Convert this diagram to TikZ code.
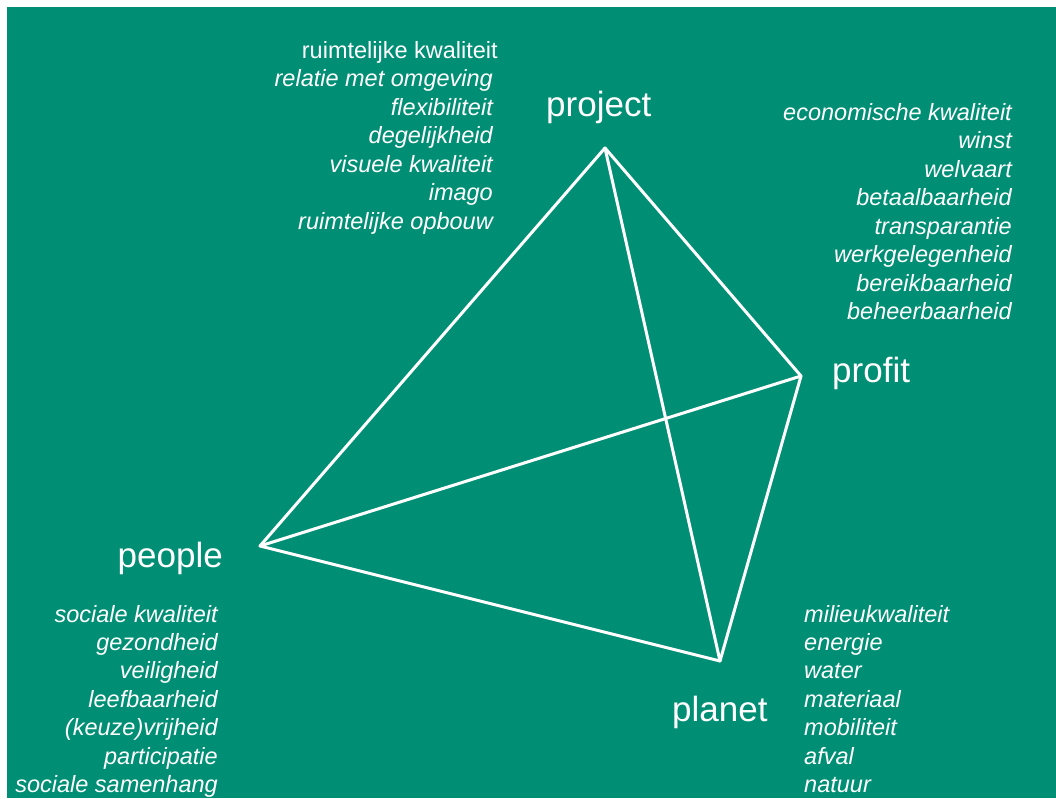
\documentclass[tikz,border=0pt]{standalone}
\usepackage{fontspec}
\setmainfont{Liberation Sans}
\definecolor{bggreen}{RGB}{0,143,116}
\begin{document}
\begin{tikzpicture}[x=1pt,y=-1pt,
  title/.style={text=white,font=\fontsize{35}{42}\selectfont,inner sep=0pt},
  item/.style={text=white,font=\fontsize{23.5}{28}\selectfont\itshape,inner sep=0pt},
  itemup/.style={text=white,font=\fontsize{23.5}{28}\selectfont,inner sep=0pt},
  edge/.style={draw=white,line width=3pt,line cap=round,line join=round}]
\useasboundingbox (0,0) rectangle (1056,798);
\fill[white] (0,0) rectangle (1056,798);
\fill[bggreen] (7,7) rectangle (1056,798);
% vertices
\coordinate (P) at (605,148);
\coordinate (F) at (801,376);
\coordinate (E) at (260,546);
\coordinate (L) at (720,661);
\draw[edge] (P) -- (E);
\draw[edge] (P) -- (F);
\draw[edge] (P) -- (L);
\draw[edge] (E) -- (F);
\draw[edge] (E) -- (L);
\draw[edge] (F) -- (L);
% titles
\node[title,anchor=base west] (tproject) at (546,116) {project};
\node[title,anchor=base west] (tprofit) at (832,382) {profit};
\node[title,anchor=base east] (tpeople) at (223,567) {people};
\node[title,anchor=base west] (tplanet) at (672,721) {planet};
% project list
\node[itemup,anchor=base east] (pj0) at (498,58) {ruimtelijke kwaliteit};
\foreach [count=\i] \t in {relatie met omgeving,flexibiliteit,degelijkheid,visuele kwaliteit,imago,ruimtelijke opbouw}
  \node[item,anchor=base east] (pj\i) at (493,58+28.5*\i) {\t};
% profit list
\foreach [count=\i] \t in {economische kwaliteit,winst,welvaart,betaalbaarheid,transparantie,werkgelegenheid,bereikbaarheid,beheerbaarheid}
  \node[item,anchor=base east] (pf\i) at (1012,91.5+28.5*\i) {\t};
% people list
\foreach [count=\i] \t in {sociale kwaliteit,gezondheid,veiligheid,leefbaarheid,(keuze)vrijheid,participatie,sociale samenhang}
  \node[item,anchor=base east] (pe\i) at (218,593.6+28.4*\i) {\t};
% planet list
\foreach [count=\i] \t in {milieukwaliteit,energie,water,materiaal,mobiliteit,afval,natuur}
  \node[item,anchor=base west] (pl\i) at (804,593.6+28.4*\i) {\t};
\end{tikzpicture}
\end{document}
